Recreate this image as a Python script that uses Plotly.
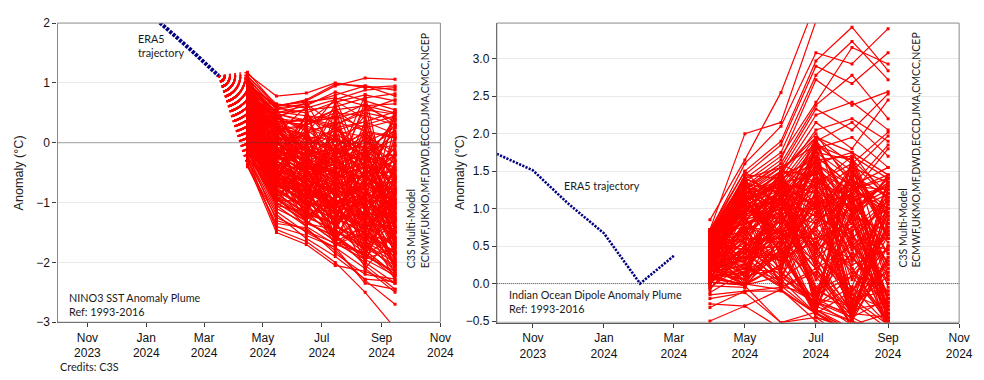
import plotly.graph_objects as go

# ---------------------------------------------------------------- data
x_range = ["2023-10-01", "2024-11-01"]
month_ticks = ["2023-11-01", "2024-01-01", "2024-03-01", "2024-05-01",
               "2024-07-01", "2024-09-01", "2024-11-01"]
month_labels = ["Nov<br>2023", "Jan<br>2024", "Mar<br>2024", "May<br>2024",
                "Jul<br>2024", "Sep<br>2024", "Nov<br>2024"]

# NINO3 SST anomaly (°C)
nino3_era5_dates = ["2023-12-15", "2024-01-15", "2024-02-15", "2024-03-16"]
nino3_era5_vals = [2.52, 2.01, 1.57, 1.12]
nino3_fc_dates = ["2024-04-15", "2024-05-15", "2024-06-15",
                  "2024-07-15", "2024-08-15", "2024-09-15"]
# ensemble members, hundredths of °C (Apr..Sep)
nino3_members = [
    [118, 62, 70, 95, 108, 106], [115, 78, 83, 100, 92, 95], [112, 60, 72, 98, 95, 88],
    [110, 65, 58, 72, 88, 92], [108, 55, 65, 80, 95, 78], [105, 58, 50, 68, 80, 70],
    [102, 50, 62, 85, 70, 55], [100, 45, 55, 60, 75, 82], [98, 62, 68, 75, 62, 65],
    [96, 40, 35, 55, 62, 50], [94, 52, 45, 40, 55, 72], [92, 35, 30, 50, 45, 30],
    [90, 30, 40, 25, 35, 52], [88, 42, 20, 30, 50, 40], [86, 25, 15, 35, 20, 10],
    [84, 20, 28, 10, 30, 45], [82, 38, 10, 5, -10, 20], [80, 15, 5, 20, 10, -15],
    [78, 10, -5, -20, 0, 25], [76, 5, 12, -10, -30, -40], [74, 28, -10, 15, -15, 5],
    [72, 0, -20, -35, -20, -50], [70, -5, 0, -5, 15, -25], [68, 12, -15, -40, -60, -80],
    [66, -10, -30, -15, -45, -10], [64, 18, -25, -50, -35, -65], [62, -15, -40, -25, -70, -100],
    [60, -20, -10, -60, -50, -30], [58, 2, -45, -30, -80, -120], [56, -25, -35, -70, -55, -90],
    [54, -30, -55, -45, -100, -70], [52, 8, -5, 20, 35, 15], [50, -8, -18, -12, 5, -35],
    [48, 22, 30, 45, 25, 38], [46, -35, -60, -80, -95, -130], [44, -12, -28, -55, -40, -60],
    [42, 32, 40, 30, 55, 48], [40, -40, -70, -95, -120, -150], [38, -18, -50, -35, -65, -45],
    [36, 15, 0, -25, -10, -55], [34, -45, -65, -110, -90, -140], [32, -22, -38, -65, -85, -110],
    [30, 5, -20, -8, -30, -20], [28, -50, -80, -100, -130, -115], [26, -28, -15, -45, -25, -75],
    [24, -55, -90, -75, -110, -160], [22, -32, -48, -90, -70, -95], [20, -60, -75, -120, -140, -170],
    [18, -38, -58, -40, -60, -85], [16, -65, -100, -130, -115, -180], [14, -42, -85, -70, -105, -125],
    [12, -70, -95, -140, -160, -190], [10, -48, -62, -85, -75, -105], [8, -75, -110, -125, -150, -200],
    [6, -52, -72, -105, -125, -145], [4, -80, -105, -150, -170, -210], [2, -58, -88, -60, -95, -135],
    [0, -85, -120, -135, -180, -220], [-2, -62, -92, -115, -100, -165], [-4, -90, -115, -160, -190, -215],
    [-6, -68, -102, -95, -135, -175], [-8, -95, -125, -145, -175, -205], [-10, -72, -98, -120, -145, -185],
    [-12, -100, -130, -165, -200, -235], [-14, -105, -140, -170, -185, -220], [-16, -110, -135, -155, -205, -245],
    [-18, -78, -112, -138, -165, -195], [-20, -130, -145, -180, -230, -270], [-22, -115, -150, -175, -210, -250],
    [-25, -145, -165, -200, -250, -310], [-28, -120, -160, -190, -228, -232], [-30, -140, -155, -175, -235, -245],
    [-35, -150, -170, -205, -215, -235], [-38, -125, -148, -168, -195, -222], [-40, -135, -142, -185, -220, -228],
    [100, 20, -10, -30, -15, -75], [95, 10, -25, 5, -60, -30], [90, 0, -30, -60, -40, -105],
    [85, -10, -45, -20, -95, -60], [80, -20, -50, -80, -50, -140], [75, -30, -20, -90, -105, -80],
    [70, -40, -75, -45, -125, -155], [65, -50, -85, -100, -70, -165], [60, -55, -30, -115, -140, -100],
    [55, -60, -95, -65, -155, -185], [50, -65, -88, -130, -90, -175], [45, -70, -100, -110, -145, -95],
    [40, -75, -55, -140, -170, -200], [35, -80, -110, -80, -165, -130], [30, -85, -118, -135, -105, -212],
    [25, -90, -75, -155, -190, -150], [20, -95, -128, -100, -185, -225], [15, -100, -132, -158, -125, -218],
    [10, -105, -85, -172, -135, -230], [5, -92, -122, -148, -178, -110], [108, 30, 10, -15, 20, -55],
    [104, 40, 25, 5, -20, 30], [99, 48, 38, 22, -10, -5], [93, 35, -5, 25, -25, 15],
    [87, 28, 8, -18, 12, -62], [81, 18, -12, -32, -52, -20], [77, 45, 22, -15, -5, -45],
    [73, 36, 30, 55, 18, 8], [67, 25, 5, -12, -35, -85], [63, 48, 35, 42, 65, 28],
    [57, 10, -8, -28, 5, -58], [51, -2, -22, 10, -58, -78], [47, -12, -32, -52, -72, -40],
    [43, 2, -12, -22, -38, -128], [37, -8, -42, -62, -20, -102], [33, -18, -52, -72, -92, -150],
    [27, -25, -45, -78, -40, -118], [23, -35, -58, -35, -108, -128], [17, -22, -48, -68, -78, -170],
    [13, -30, -68, -98, -118, -60], [7, -45, -78, -108, -60, -158], [3, -40, -62, -82, -112, -142],
    [-3, -55, -82, -112, -138, -85], [-9, -60, -95, -125, -152, -182], [-15, -50, -75, -102, -122, -148],
    [112, -20, 45, -60, 10, -150], [106, 35, -70, 20, -110, -20], [101, -55, 10, -95, -30, 40],
    [97, 52, -35, 55, -140, -95], [91, -80, -110, -10, 45, -180], [86, 15, 60, -125, -60, 25],
    [83, -35, -90, 35, -160, -60], [79, 45, -15, -70, 70, -200], [74, -65, 25, -140, -85, -5],
    [69, 22, -120, 10, -25, -130], [64, -90, -40, -45, -175, 30], [61, 55, -75, -110, 0, -165],
    [56, -5, -130, 60, -120, -45], [53, -45, 30, -150, -40, -190], [49, 30, -60, -20, -150, -15],
    [44, -100, -20, -90, 25, -110], [41, 10, -100, -160, -70, -210], [36, -70, 50, -5, -190, -75],
    [31, 40, -85, -130, -15, -170], [28, -25, -5, -55, -135, 50], [24, -95, -125, 40, -95, -140],
    [19, -10, -45, -115, -180, -30], [14, -60, 5, -170, -55, -120], [9, 20, -110, -75, -120, -195],
    [6, -85, -65, -30, -200, -65], [1, -40, -135, -145, -5, -160], [-4, -75, -30, -100, -165, -215],
    [-9, -50, -90, 5, -145, -100], [-13, -105, -115, -135, -80, -185], [-19, -30, -70, -165, -185, -125],
    [-24, -90, -140, -60, -110, -205], [-29, -65, -105, -155, -195, -175], [108, 5, -50, -100, -75, 0],
    [94, -15, 20, -65, -125, -90], [88, 50, -25, -135, 20, -145], [77, -45, -95, 15, -170, -35],
    [71, 25, -55, -120, -45, -185], [66, -60, 15, -85, -130, 10], [58, -8, -110, -40, -15, -115],
    [52, -85, -15, -145, -185, -55], [47, 35, -45, -25, -100, -205], [42, -50, -120, -105, -65, -20],
    [38, 0, -35, -170, -150, -170], [33, -70, -80, -15, -30, -135], [27, 12, -125, -90, -200, -80],
    [22, -40, -10, -160, -115, -195], [16, -95, -100, -50, -160, -105], [11, -20, -60, -120, -45, -160],
    [4, -80, -130, -75, -180, -220], [-1, -55, -95, -140, -90, -50], [-7, -100, -50, -110, -210, -150],
    [-17, -60, -130, -165, -140, -205], [99, 58, 65, 30, -40, -110], [92, -25, 35, 70, 40, -70],
    [84, 60, -40, -50, 60, 35], [76, 40, 68, -20, -90, 55], [68, -10, 15, 75, -50, -125],
    [59, 50, 55, -80, 35, -95], [51, 25, -30, 65, -70, 45], [45, -30, 45, -40, 80, -140],
]

# Indian Ocean Dipole index (°C)
iod_era5_dates = ["2023-10-01", "2023-11-01", "2023-12-01",
                  "2024-01-01", "2024-02-01", "2024-03-01"]
iod_era5_vals = [1.73, 1.51, 1.07, 0.67, 0.00, 0.37]
iod_fc_dates = ["2024-04-01", "2024-05-01", "2024-06-01",
                "2024-07-01", "2024-08-01", "2024-09-01"]
iod_members = [
    [85, 165, 255, 375, 420, 460], [72, 200, 215, 350, 380, 400], [70, 160, 210, 308, 293, 340],
    [68, 150, 190, 297, 342, 284], [60, 145, 185, 290, 267, 308], [66, 140, 175, 278, 323, 272],
    [64, 135, 170, 242, 315, 293], [62, 130, 165, 272, 238, 256], [58, 128, 160, 238, 278, 220],
    [56, 125, 155, 233, 205, 253], [54, 120, 150, 225, 242, 205], [55, 118, 145, 215, 180, 245],
    [52, 115, 140, 205, 220, 190], [50, 112, 135, 195, 160, 202], [48, 110, 130, 190, 215, 170],
    [46, 105, 125, 185, 150, 197], [44, 100, 120, 180, 195, 155], [45, 98, 118, 170, 130, 185],
    [42, 95, 115, 165, 170, 140], [40, 92, 112, 160, 120, 180],
    [70, 140, 120, 150, 110, 130], [68, 95, 140, 100, 150, 90], [65, 120, 80, 160, 95, 140],
    [62, 80, 150, 130, 170, 60], [60, 130, 110, 90, 60, 110], [58, 70, 95, 175, 140, 100],
    [55, 110, 60, 120, 80, 145], [53, 60, 130, 80, 120, 40], [50, 125, 90, 140, 45, 85],
    [48, 50, 70, 110, 100, 20], [46, 100, 145, 60, 130, 125], [44, 40, 100, 190, 90, 70],
    [42, 115, 55, 95, 35, -10], [40, 85, 120, 45, 75, 115], [38, 30, 85, 135, 160, 60],
    [36, 105, 40, 70, 20, -30], [34, 75, 115, 150, 125, 95], [32, 25, 65, 30, -10, 50],
    [30, 90, 100, 115, 65, -40], [28, 55, 30, 85, 110, 130], [26, 20, 80, 155, 50, 5],
    [24, 70, 125, 50, -20, -55], [22, 45, 50, 105, 135, 75], [20, 10, 110, 65, 30, 100],
    [18, 65, 20, 125, 85, -20], [16, 35, 75, 20, -40, 35], [14, 5, 40, 90, 140, 80],
    [12, 80, 95, 5, 55, -60], [10, 15, 135, 145, 95, 120], [8, 60, 60, -10, -30, 10],
    [6, 0, 25, 75, 15, -45], [4, 50, 90, 40, 105, 55], [2, -2, 10, -25, -45, -20],
    [0, 40, 55, 110, 70, 110], [-5, 25, -5, 15, -50, -65], [-8, 45, 35, 55, 25, 45],
    [71, 110, 135, 120, 155, 65], [69, 75, 60, 185, 105, 25], [67, 135, 105, 45, -15, -35],
    [63, 55, 125, 95, 125, 140], [61, 100, 70, -15, 40, 15], [57, 65, 145, 165, 60, 105],
    [56, 115, 45, 75, 145, -5], [51, 45, 85, 25, -35, 80], [49, 95, 115, 130, 90, -50],
    [47, 35, 35, -30, 10, 65], [45, 85, 100, 100, 115, -25], [43, 20, 5, 40, -5, 125],
    [41, 70, 140, 170, 130, 90], [39, 10, 45, 10, -55, -40], [37, 105, 65, 60, 80, 30],
    [35, 40, 120, 140, 100, -60], [33, 90, 15, -20, -30, 20], [31, 15, 95, 80, 160, 115],
    [29, 60, 55, 120, 35, -15], [27, -2, 25, -35, -60, -70], [25, 80, 105, 35, 70, 100],
    [23, 30, 70, -5, -40, 50], [21, 55, 5, 105, 120, -45], [19, 5, 130, 130, 5, 75],
    [17, 95, 80, 50, 145, -35], [15, 25, -3, -40, -65, -80], [13, 65, 110, 90, 65, 0],
    [11, 35, 40, -25, 95, 135], [9, 50, 85, 125, 20, -50], [7, 0, -8, -40, -70, -75],
    [5, 75, 70, 20, 50, 90], [3, 20, 115, 155, 110, 40], [1, 45, 30, 60, -25, -60],
    [-3, -5, 60, -45, -60, -70], [72, 150, 100, 195, 175, 145], [71, 125, 160, 135, 55, -30],
    [66, 90, 125, 175, 165, 120], [59, 140, 155, 105, -10, 70], [54, 105, 150, 200, 130, 155],
    [47, 130, 95, -20, -45, -70], [39, 145, 140, 160, 175, 110], [31, 110, 150, 145, 85, -65],
    [23, 120, 155, 185, 100, 135], [15, 135, 120, 30, -60, -70], [-15, -10, -10, -40, -60, -75],
    [-20, -12, -52, -45, -80, -90], [-27, -30, -8, -50, -75, -80], [-32, -10, -5, 20, -55, -65],
    [-50, -30, -60, -70, -90, -100], [-12, 15, 40, -35, -65, -60], [20, -2, 45, -45, -60, -80],
    [10, -3, -52, -38, -70, -90], [38, 115, 40, -30, -50, -75], [27, 75, 0, -25, -55, -65],
    [70, 30, 120, -20, 150, -40], [66, 140, 20, 180, -30, 120], [63, 10, 140, 40, 110, -50],
    [60, 120, 60, 190, -45, 80], [57, 45, 150, -35, 90, 140], [53, 135, 35, 110, -20, -10],
    [50, -5, 95, 165, 30, 130], [47, 100, 140, -25, 170, 10], [44, 20, 15, 150, -50, 100],
    [41, 130, 80, 10, 140, -45], [38, 65, 150, 195, 60, 45], [35, 5, 45, -40, 125, 145],
    [32, 115, 105, 125, -35, -25], [29, 35, -2, 75, 100, 125], [26, 140, 120, -10, 15, 70],
    [23, 70, 30, 185, 165, -50], [20, 0, 145, 35, -40, 105], [17, 125, 65, 140, 80, -15],
    [14, 50, 10, -30, 150, 60], [11, 110, 135, 100, -25, 140], [8, 15, 50, 170, 45, -40],
    [5, 95, 115, -15, 120, 25], [2, -2, 25, 120, -50, 110], [-2, 80, 90, 55, 85, -30],
    [-6, 40, 5, -40, -10, 50], [69, 85, 125, -5, 40, -50], [64, 25, 55, 160, 130, -20],
    [59, 120, 130, 20, -45, 95], [54, 10, 20, 135, 115, 130], [49, 95, 145, -35, 70, -45],
    [44, 40, 75, 180, -15, 15], [39, 145, 10, 80, 155, 135], [34, 60, 110, -25, -40, 85],
    [29, 5, 40, 150, 95, -35], [24, 110, 150, 50, -30, 120], [19, 45, 0, 190, 140, 5],
    [14, 125, 100, -15, 10, -50], [9, 20, 130, 105, -50, 140], [4, 85, 45, -35, 165, 60],
    [0, 50, 95, 130, 35, -25], [71, 105, 85, 45, 125, 100], [62, 55, 15, -30, -5, -55],
    [46, 0, 60, 95, -45, 30], [37, 90, -4, -15, 60, -40], [27, 30, 115, 165, -30, 65],
    [18, 115, 50, -40, 100, -20], [12, -3, 140, 25, 145, 115], [7, 60, 30, 115, -40, -45],
    [67, 80, 100, 150, 20, -55], [33, 35, 65, -35, -50, 35],
]

# ---------------------------------------------------------------- styles
RED = "#ff0000"
NAVY = "#000080"
TICK_FONT = dict(family="Liberation Sans, Arial, sans-serif", size=12, color="#111111")
NOTE_FONT = dict(family="Lato, sans-serif", size=10.8, color="#1a1a1a")
AXIS_DARK = "#3c3c3c"
FRAME = "#8a8a8a"
GRID = "#e9e9e9"


def member_paths(dates, members):
    """Join all members into one trace, separated by gaps."""
    xs, ys = [], []
    for m in members:
        xs += dates + [None]
        ys += [v / 100 for v in m] + [None]
    return xs, ys


def fan_paths(start_date, start_val, first_date, members):
    """Connectors from the last observed value to each member's first value."""
    xs, ys = [], []
    for m in members:
        xs += [start_date, first_date, None]
        ys += [start_val, m[0] / 100, None]
    return xs, ys


fig = go.Figure()

# ---- left panel: NINO3
nx, ny = fan_paths(nino3_era5_dates[-1], nino3_era5_vals[-1], nino3_fc_dates[0], nino3_members)
fig.add_trace(go.Scatter(x=nx, y=ny, mode="lines", xaxis="x", yaxis="y",
                         line=dict(color=RED, width=1.2, dash="2px,3.2px"),
                         hoverinfo="skip", showlegend=False))
mx, my = member_paths(nino3_fc_dates, nino3_members)
fig.add_trace(go.Scatter(x=mx, y=my, mode="lines+markers", xaxis="x", yaxis="y",
                         line=dict(color=RED, width=1.2),
                         marker=dict(color=RED, size=3, symbol="square"),
                         showlegend=False))
fig.add_trace(go.Scatter(x=nino3_era5_dates, y=nino3_era5_vals, mode="lines",
                         xaxis="x", yaxis="y",
                         line=dict(color=NAVY, width=4, dash="3px,1.3px"),
                         showlegend=False))

# ---- right panel: IOD
mx, my = member_paths(iod_fc_dates, iod_members)
fig.add_trace(go.Scatter(x=mx, y=my, mode="lines+markers", xaxis="x2", yaxis="y2",
                         line=dict(color=RED, width=1.2),
                         marker=dict(color=RED, size=3, symbol="square"),
                         showlegend=False))
fig.add_trace(go.Scatter(x=iod_era5_dates, y=iod_era5_vals, mode="lines",
                         xaxis="x2", yaxis="y2",
                         line=dict(color=NAVY, width=2.6, dash="2.2px,1.3px"),
                         showlegend=False))

xaxis_common = dict(type="date", range=x_range, tickmode="array",
                    tickvals=month_ticks, ticktext=month_labels,
                    ticks="outside", ticklen=4, tickcolor=AXIS_DARK,
                    showline=True, linecolor=AXIS_DARK, linewidth=1.2,
                    showgrid=False, zeroline=False, tickfont=TICK_FONT)
yaxis_common = dict(ticks="outside", ticklen=4, tickcolor=AXIS_DARK,
                    showline=True, linecolor=AXIS_DARK, linewidth=1.2,
                    showgrid=True, gridcolor=GRID, gridwidth=1,
                    zeroline=False, tickfont=TICK_FONT)

fig.update_layout(
    width=984, height=380,
    margin=dict(l=0, r=0, t=0, b=0),
    paper_bgcolor="white", plot_bgcolor="white",
    xaxis=dict(domain=[0.0593, 0.4540], anchor="y", **xaxis_common),
    yaxis=dict(domain=[0.1387, 0.9561], anchor="x", range=[-3, 2], dtick=1,
               tick0=0, **yaxis_common),
    xaxis2=dict(domain=[0.5122, 0.9888], anchor="y2", **xaxis_common),
    yaxis2=dict(domain=[0.1368, 0.9561], anchor="x2", range=[-0.525, 3.475],
                dtick=0.5, tick0=0, tickformat=".1f", **yaxis_common),
    showlegend=False,
)

# frames and dotted zero lines
for xa, ya in (("x", "y"), ("x2", "y2")):
    fig.add_shape(type="rect", xref=f"{xa} domain", yref=f"{ya} domain",
                  x0=0, x1=1, y0=0, y1=1, line=dict(color=FRAME, width=1),
                  layer="above")
    fig.add_shape(type="line", xref=f"{xa} domain", yref=ya, x0=0, x1=1, y0=0, y1=0,
                  line=dict(color="#333333", width=0.8, dash="1px,1px"), layer="above")

notes = [
    dict(text="ERA5<br>trajectory", x=0.1399, y=0.896, xanchor="left", yanchor="middle"),
    dict(text="NINO3 SST Anomaly Plume<br>Ref: 1993-2016", x=0.0694, y=0.1882,
         xanchor="left", yanchor="middle"),
    dict(text="ERA5 trajectory", x=0.5793, y=0.5132, xanchor="left", yanchor="middle"),
    dict(text="Indian Ocean Dipole Anomaly Plume<br>Ref: 1993-2016", x=0.5227, y=0.1955,
         xanchor="left", yanchor="middle"),
    dict(text="Credits: C3S", x=0.0593, y=0.0176, xanchor="left", yanchor="middle"),
]
for n in notes:
    fig.add_annotation(xref="paper", yref="paper", showarrow=False, align="left",
                       font=NOTE_FONT, **n)

for xc in (0.4317, 0.9383):
    fig.add_annotation(xref="paper", yref="paper", x=xc, y=1 - 273 / 380,
                       xanchor="center", yanchor="bottom", textangle=-90,
                       align="left", showarrow=False,
                       text="C3S Multi-Model<br>ECMWF,UKMO,MF,DWD,ECCD,JMA,CMCC,NCEP",
                       font=dict(family="Lato, sans-serif", size=10.5, color="#1a1a1a"))

for xc in (19 / 984, 466 / 984):
    fig.add_annotation(xref="paper", yref="paper", x=xc, y=1 - 172 / 380,
                       xanchor="center", yanchor="middle", textangle=-90,
                       showarrow=False, text="Anomaly (°C)",
                       font=dict(family="Liberation Sans, Arial, sans-serif",
                                 size=12.6, color="#222222"))

fig.write_html("out.html")
